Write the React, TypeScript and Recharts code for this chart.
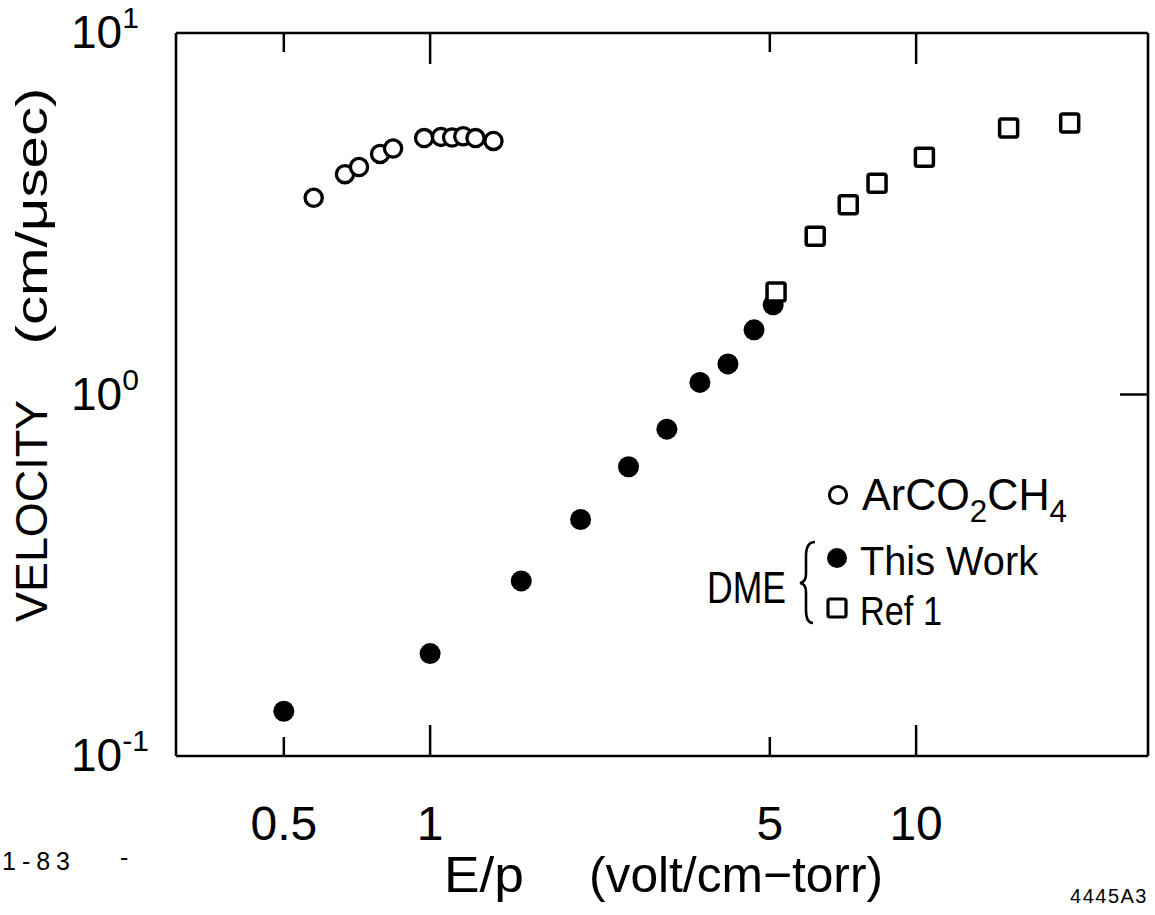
import React from "react";
import { ScatterChart, Scatter, XAxis, YAxis, Legend } from "recharts";

const FONT = "'Liberation Sans', Arial, sans-serif";
const W = 1155;
const H = 915;
const MARGIN = { top: 32, right: 6, bottom: 59, left: 76 };
const PLOT_TOP = MARGIN.top + 1;
const PLOT_BOTTOM = H - MARGIN.bottom - 100;

// axis ticks
const X_TICKS = [0.5, 1, 5, 10];
const X_TICK_LABELS = ["0.5", "1", "5", "10"];
const Y_TICKS = [0.1, 1, 10];
const Y_TICK_EXPONENTS = ["-1", "0", "1"];
const RIGHT_TICKS = [1];

// Ar CO2 CH4 (open circles)
const ARCO_E = [0.576, 0.668, 0.714, 0.789, 0.839, 0.972, 1.053, 1.11, 1.17, 1.24, 1.35];
const ARCO_V = [3.5, 4.07, 4.26, 4.63, 4.79, 5.12, 5.16, 5.14, 5.18, 5.12, 5.03];

// DME, this work (filled circles)
const DME_E = [0.5, 1.0, 1.54, 2.04, 2.56, 3.07, 3.59, 4.1, 4.64, 5.08];
const DME_V = [0.133, 0.192, 0.305, 0.451, 0.631, 0.802, 1.08, 1.215, 1.51, 1.77];

// DME, ref 1 (open squares)
const REF_E = [5.15, 6.2, 7.25, 8.31, 10.4, 15.5, 20.7];
const REF_V = [1.92, 2.74, 3.35, 3.84, 4.53, 5.46, 5.64];

const AXIS = { stroke: "#000", strokeWidth: 2.6 };

const tickLen = (v: number) => (v === 1 || v === 10 ? 31 : 19);

// bottom labels plus the inward tick marks on both bottom and top edges
const BottomTick = (p: any) => {
  const v = p.payload.value;
  const i = X_TICKS.indexOf(v);
  return (
    <g>
      <line x1={p.x} y1={PLOT_BOTTOM} x2={p.x} y2={PLOT_BOTTOM - tickLen(v)} stroke="#000" strokeWidth={2.5} />
      <line x1={p.x} y1={PLOT_TOP} x2={p.x} y2={PLOT_TOP + tickLen(v)} stroke="#000" strokeWidth={2.5} />
      <text x={p.x} y={PLOT_BOTTOM + 84} textAnchor="middle" fontSize={48} fontFamily={FONT} fill="#000">
        {X_TICK_LABELS[i]}
      </text>
    </g>
  );
};

const LeftTick = (p: any) => {
  const i = Y_TICKS.indexOf(p.payload.value);
  return (
    <text x={MARGIN.left - 5} y={p.y + 15} fontSize={46} fontFamily={FONT} fill="#000">
      10
      <tspan dy={-20} fontSize={30}>
        {Y_TICK_EXPONENTS[i]}
      </tspan>
    </text>
  );
};

const RightTick = (p: any) => (
  <line x1={p.x} y1={p.y} x2={p.x - 28} y2={p.y} stroke="#000" strokeWidth={2.5} />
);

const OpenCircle = (p: any) => (
  <circle cx={p.cx} cy={p.cy} r={8.6} fill="#fff" stroke="#000" strokeWidth={3.3} />
);
const FilledCircle = (p: any) => <circle cx={p.cx} cy={p.cy} r={10.5} fill="#000" />;
const OpenSquare = (p: any) => (
  <rect x={p.cx - 9} y={p.cy - 9} width={18} height={18} rx={2} fill="#fff" stroke="#000" strokeWidth={3.5} />
);

const XTitle = () => (
  <g fontFamily={FONT} fontSize={50} fill="#000">
    <text x={444} y={892} textLength={80} lengthAdjust="spacingAndGlyphs">E/p</text>
    <text x={589} y={892} textLength={294} lengthAdjust="spacingAndGlyphs">(volt/cm−torr)</text>
  </g>
);

const YTitle = () => (
  <g fontFamily={FONT} fontSize={44} fill="#000">
    <text x={47} y={511} textAnchor="middle" transform="rotate(-90 47 511)" textLength={222} lengthAdjust="spacingAndGlyphs">
      VELOCITY
    </text>
    <text x={47} y={216} textAnchor="middle" transform="rotate(-90 47 216)" textLength={257} lengthAdjust="spacingAndGlyphs">
      (cm/μsec)
    </text>
  </g>
);

const LegendBox = () => (
  <svg width={440} height={190} style={{ overflow: "visible" }} fontFamily={FONT}>
    <circle cx={138} cy={35} r={8.6} fill="#fff" stroke="#000" strokeWidth={3} />
    <text x={162} y={50} fontSize={44} textLength={205} lengthAdjust="spacingAndGlyphs">
      ArCO<tspan dy={12} fontSize={32}>2</tspan>
      <tspan dy={-12}>CH</tspan>
      <tspan dy={12} fontSize={32}>4</tspan>
    </text>
    <circle cx={137} cy={98} r={10} fill="#000" />
    <text x={160} y={115} fontSize={40} textLength={178} lengthAdjust="spacingAndGlyphs">This Work</text>
    <rect x={128} y={139} width={18} height={18} rx={2} fill="#fff" stroke="#000" strokeWidth={3.2} />
    <text x={160} y={165} fontSize={40} textLength={82} lengthAdjust="spacingAndGlyphs">Ref 1</text>
    <path
      d="M115 82 Q106 82 106 96 L106 114 Q106 122 100 123 Q106 124 106 132 L106 150 Q106 163 113 163"
      fill="none"
      stroke="#000"
      strokeWidth={2.6}
    />
    <text x={7} y={143} fontSize={44} textLength={79} lengthAdjust="spacingAndGlyphs">DME</text>
  </svg>
);

export default function App() {
  const arco = ARCO_E.map((e, i) => ({ e, v: ARCO_V[i] }));
  const dme = DME_E.map((e, i) => ({ e, v: DME_V[i] }));
  const ref = REF_E.map((e, i) => ({ e, v: REF_V[i] }));

  return (
    <div style={{ position: "absolute", left: 0, top: 0, width: W, height: H, background: "#fff" }}>
      <ScatterChart width={W} height={H} margin={MARGIN}>
        <XAxis
          xAxisId="b"
          dataKey="e"
          type="number"
          scale="log"
          domain={[0.3, 30]}
          allowDataOverflow
          ticks={X_TICKS}
          interval={0}
          height={100}
          tickSize={0}
          tickMargin={0}
          tickLine={false}
          axisLine={AXIS}
          tick={(p: any) => <BottomTick {...p} />}
          label={XTitle}
        />
        <XAxis
          xAxisId="t"
          orientation="top"
          type="number"
          scale="log"
          domain={[0.3, 30]}
          allowDataOverflow
          height={1}
          tick={false}
          tickLine={false}
          axisLine={AXIS}
        />
        <YAxis
          yAxisId="l"
          dataKey="v"
          type="number"
          scale="log"
          domain={[0.1, 10]}
          allowDataOverflow
          ticks={Y_TICKS}
          interval={0}
          width={100}
          tickSize={0}
          tickMargin={0}
          tickLine={false}
          axisLine={AXIS}
          tick={(p: any) => <LeftTick {...p} />}
          label={YTitle}
        />
        <YAxis
          yAxisId="r"
          orientation="right"
          type="number"
          scale="log"
          domain={[0.1, 10]}
          allowDataOverflow
          ticks={RIGHT_TICKS}
          interval={0}
          width={1}
          tickSize={0}
          tickMargin={0}
          tickLine={false}
          axisLine={AXIS}
          tick={(p: any) => <RightTick {...p} />}
        />
        <Scatter name="ArCO2CH4" xAxisId="b" yAxisId="l" data={arco} shape={OpenCircle} isAnimationActive={false} />
        <Scatter name="This Work" xAxisId="b" yAxisId="l" data={dme} shape={FilledCircle} isAnimationActive={false} />
        <Scatter name="Ref 1" xAxisId="b" yAxisId="l" data={ref} shape={OpenSquare} isAnimationActive={false} />
        <Legend
          layout="horizontal"
          verticalAlign="middle"
          align="center"
          content={() => <LegendBox />}
          wrapperStyle={{ left: 700, top: 460, width: 440, height: 190 }}
        />
      </ScatterChart>
      <svg
        width={W}
        height={H}
        style={{ position: "absolute", left: 0, top: 0, pointerEvents: "none" }}
        fontFamily={FONT}
        fill="#000"
      >
        <text x={2} y={870} fontSize={25} textLength={68} lengthAdjust="spacing">1-83</text>
        <text x={120} y={866} fontSize={25}>-</text>
        <text x={1148} y={903} fontSize={20} textAnchor="end" letterSpacing={1.5}>4445A3</text>
      </svg>
    </div>
  );
}
